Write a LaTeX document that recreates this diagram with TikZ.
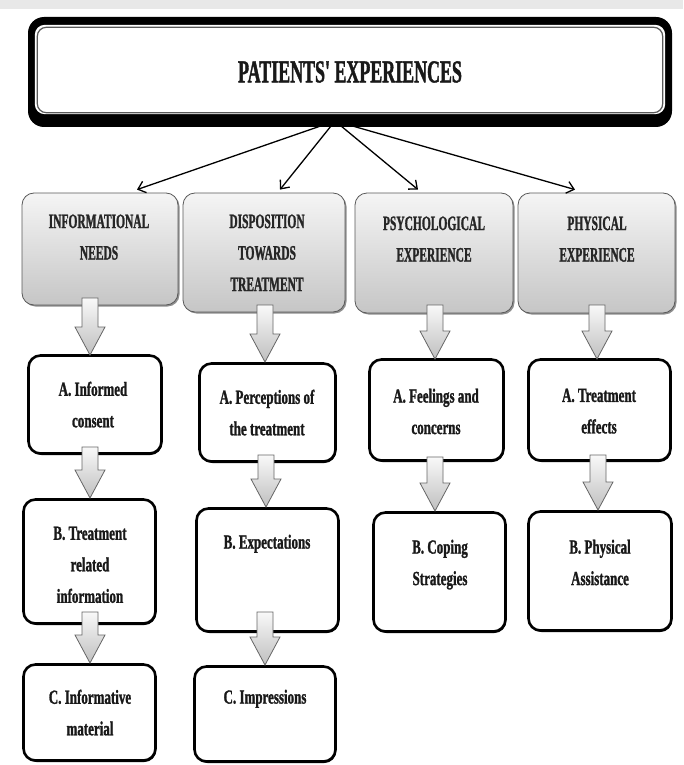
\documentclass[tikz,border=0pt]{standalone}
\usepackage{fontspec}
\setmainfont{Liberation Serif}
\newfontfamily\headfont{Liberation Serif}[FakeStretch=0.56,FakeBold=1.2]
\newfontfamily\bodyfont{Liberation Serif}[FakeStretch=0.65,FakeBold=1.2]
\usetikzlibrary{arrows.meta,shadows,calc}
\newcommand\blockarr[3]{%
  \draw[barrow] (#1-8,#2) -- (#1+8,#2) -- (#1+8,#3-28) -- (#1+15,#3-28) -- (#1,#3) -- (#1-15,#3-28) -- (#1-8,#3-28) -- cycle;}
\begin{document}
\begin{tikzpicture}[x=1pt,y=-1pt,
  graybox/.style={draw=black!65, line width=0.8pt, rounded corners=12pt,
    top color=gray!8, bottom color=gray!45, inner sep=0pt,
    drop shadow={shadow xshift=1.5pt, shadow yshift=-1.5pt, fill=black!55, opacity=0.8}},
  whitebox/.style={draw=black, line width=2.6pt, rounded corners=12pt, fill=white, inner sep=0pt,
    drop shadow={shadow xshift=0.8pt, shadow yshift=-1.5pt, fill=black, opacity=1}},
  headtxt/.style={anchor=north, align=center, inner sep=0pt,
    font=\headfont\bfseries\fontsize{20.5}{31.5}\selectfont, text=black!85},
  bodytxt/.style={anchor=north, align=center, inner sep=0pt,
    font=\bodyfont\bfseries\fontsize{20}{31.5}\selectfont, text=black!90},
  link/.style={-{Straight Barb[length=7pt,width=12pt]}, line width=1.3pt},
  barrow/.style={draw=black!60, line width=0.8pt, top color=gray!5, bottom color=gray!50}
]
\useasboundingbox (0,0) rectangle (683,765);
\fill[white] (0,0) rectangle (683,765);
\fill[gray!18] (0,0) rectangle (683,9);

% title box
\node[fill=black, rounded corners=16pt, minimum width=644pt, minimum height=110pt, inner sep=0pt] (title) at (350,72) {};
\fill[white, rounded corners=10pt] ([shift={(7,8)}]title.north west) rectangle ([shift={(-7,-13)}]title.south east);
\draw[black!65, line width=1.2pt, rounded corners=9pt] ([shift={(9.5,10.5)}]title.north west) rectangle ([shift={(-9.5,-14.5)}]title.south east);
\node[anchor=north, inner sep=0pt, font=\headfont\bfseries\fontsize{32}{36}\selectfont, text=black!90] (titletext) at (350,61) {PATIENTS' EXPERIENCES};

% level 1
\node[graybox, minimum width=156pt, minimum height=112pt] (g1) at (100,249) {};
\node[graybox, minimum width=162pt, minimum height=119pt] (g2) at (264,252.5) {};
\node[graybox, minimum width=158pt, minimum height=120pt] (g3) at (434,253) {};
\node[graybox, minimum width=157pt, minimum height=120pt] (g4) at (596.5,253) {};
\node[headtxt] (g1t) at (99,214.3) {INFORMATIONAL\\NEEDS};
\node[headtxt] (g2t) at (267,214.3) {DISPOSITION\\TOWARDS\\TREATMENT};
\node[headtxt] (g3t) at (434,216.3) {PSYCHOLOGICAL\\EXPERIENCE};
\node[headtxt] (g4t) at (597,216.3) {PHYSICAL\\EXPERIENCE};

% connectors from title
\coordinate (hub) at (335,121);
\draw[link] (hub) -- ([xshift=37pt,yshift=3pt]g1.north);
\draw[link] (hub) -- ([xshift=16pt,yshift=3pt]g2.north);
\draw[link] (hub) -- ([xshift=-16pt,yshift=3pt]g3.north);
\draw[link] (hub) -- ([xshift=-21.5pt,yshift=3pt]g4.north);

% level 2
\node[whitebox, minimum width=133pt, minimum height=98pt] (a1) at (95,404.5) {};
\node[whitebox, minimum width=136pt, minimum height=98pt] (a2) at (267.5,412.5) {};
\node[whitebox, minimum width=134pt, minimum height=101pt] (a3) at (436.5,410) {};
\node[whitebox, minimum width=142pt, minimum height=101pt] (a4) at (599.5,410) {};
\node[bodytxt] (a1t) at (93,381.5) {A. Informed\\consent};
\node[bodytxt] (a2t) at (267,389.5) {A. Perceptions of\\the treatment};
\node[bodytxt] (a3t) at (436,388.5) {A. Feelings and\\concerns};
\node[bodytxt] (a4t) at (599,388.5) {A. Treatment\\effects};

% level 3
\node[whitebox, minimum width=132pt, minimum height=124pt] (b1) at (89.5,561.5) {};
\node[whitebox, minimum width=142pt, minimum height=123pt] (b2) at (267.5,570) {};
\node[whitebox, minimum width=132pt, minimum height=119pt] (b3) at (439.5,572) {};
\node[whitebox, minimum width=143pt, minimum height=119pt] (b4) at (600,571) {};
\node[bodytxt] (b1t) at (90,526.5) {B. Treatment\\related\\information};
\node[bodytxt] (b2t) at (267,534.5) {B. Expectations};
\node[bodytxt] (b3t) at (440,539.5) {B. Coping\\Strategies};
\node[bodytxt] (b4t) at (600,539.5) {B. Physical\\Assistance};

% level 4
\node[whitebox, minimum width=132pt, minimum height=96pt] (c1) at (89.5,712.5) {};
\node[whitebox, minimum width=141pt, minimum height=95pt] (c2) at (265,714) {};
\node[bodytxt] (c1t) at (90,689.5) {C. Informative\\material};
\node[bodytxt] (c2t) at (265,689.5) {C. Impressions};

% block arrows
\blockarr{90}{298}{355}
\blockarr{265}{305}{362}
\blockarr{435}{305}{359}
\blockarr{597}{305}{359}
\blockarr{90}{447}{498}
\blockarr{266}{455}{507}
\blockarr{435}{457}{511}
\blockarr{598}{455}{510}
\blockarr{90}{612}{663}
\blockarr{265}{612}{665}
\end{tikzpicture}
\end{document}
